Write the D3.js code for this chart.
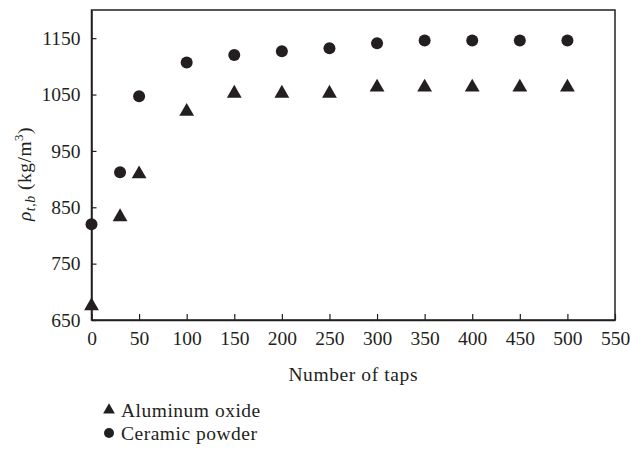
<!DOCTYPE html>
<html>
<head>
<meta charset="utf-8">
<script src="https://cdn.jsdelivr.net/npm/d3@7"></script>
<style>
  body { margin: 0; background: #fff; }
  text { font-family: "Liberation Serif", "DejaVu Serif", serif; fill: #231f20; }
</style>
</head>
<body>
<div id="chart"></div>
<script>
// x values (number of taps)
let taps = [0, 30, 50, 100, 150, 200, 250, 300, 350, 400, 450, 500];
// bulk density values
let aluminumOxide = [675, 833, 909, 1020, 1052, 1052, 1052, 1063, 1063, 1063, 1063, 1063];
let ceramicPowder = [820, 912, 1047, 1107, 1120, 1127, 1132, 1141, 1146, 1146, 1146, 1146];
let xTicks = [0, 50, 100, 150, 200, 250, 300, 350, 400, 450, 500, 550];
let yTicks = [650, 750, 850, 950, 1050, 1150];

let dim = { width: 631, height: 453 };
let box = { left: 91.5, right: 615, top: 10, bottom: 320 };
let ink = '#231f20';
let fontSize = '19.5px';

let svg = d3.select('#chart')
    .append('svg')
    .attr('width', dim.width)
    .attr('height', dim.height);

let scaleX = d3.scaleLinear().domain([0, 550]).range([box.left, box.right]);
let scaleY = d3.scaleLinear().domain([650, 1200]).range([box.bottom, box.top]);

// frame
svg.append('rect')
    .attr('x', box.left).attr('y', box.top)
    .attr('width', box.right - box.left).attr('height', box.bottom - box.top)
    .attr('fill', 'none').attr('stroke', ink).attr('stroke-width', 1.5);

// x axis, ticks pointing inward
let axisX = svg.append('g')
    .attr('transform', `translate(0, ${box.bottom})`)
    .call(d3.axisBottom(scaleX).tickValues(xTicks).tickFormat(d3.format('d'))
        .tickSize(-6).tickPadding(11).tickSizeOuter(0));

// y axis, ticks pointing inward
let axisY = svg.append('g')
    .attr('transform', `translate(${box.left}, 0)`)
    .call(d3.axisLeft(scaleY).tickValues(yTicks).tickFormat(d3.format('d'))
        .tickSize(-5).tickPadding(11).tickSizeOuter(0));

function styleAxis(axis) {
    axis.select('.domain').attr('stroke', ink).attr('stroke-width', 1.5);
    axis.selectAll('line').attr('stroke', ink).attr('stroke-width', 1.2);
    axis.selectAll('text')
        .attr('font-size', fontSize)
        .attr('font-family', '"Liberation Serif", serif')
        .attr('fill', ink);
}
styleAxis(axisX);
styleAxis(axisY);

// axis titles
svg.append('text')
    .attr('x', (box.left + box.right) / 2).attr('y', 381)
    .attr('text-anchor', 'middle').attr('font-size', fontSize)
    .attr('letter-spacing', '0.6px')
    .text('Number of taps');

let yTitle = svg.append('text')
    .attr('transform', `translate(31, 174) rotate(-90)`)
    .attr('text-anchor', 'middle').attr('font-size', fontSize)
    .attr('letter-spacing', '0.5px');
yTitle.append('tspan').attr('font-style', 'italic').text('ρ');
yTitle.append('tspan').attr('font-style', 'italic').attr('font-size', '14px').attr('dy', 4).text('t,b');
yTitle.append('tspan').attr('dy', -4).text(' (kg/m');
yTitle.append('tspan').attr('font-size', '13px').attr('dy', -8).text('3');
yTitle.append('tspan').attr('dy', 8).text(')');

let triangle = d3.symbol().type(d3.symbolTriangle).size(95);

// markers
svg.append('g').selectAll('circle')
    .data(taps.map((t, i) => ({ t, v: ceramicPowder[i] })))
    .join('circle')
    .attr('cx', d => scaleX(d.t))
    .attr('cy', d => scaleY(d.v))
    .attr('r', 6)
    .attr('fill', ink);

svg.append('g').selectAll('path')
    .data(taps.map((t, i) => ({ t, v: aluminumOxide[i] })))
    .join('path')
    .attr('d', triangle)
    .attr('transform', d => `translate(${scaleX(d.t)}, ${scaleY(d.v)})`)
    .attr('fill', ink);

// legend
let legend = svg.append('g').attr('transform', 'translate(109, 0)');
legend.append('path').attr('d', d3.symbol().type(d3.symbolTriangle).size(60))
    .attr('transform', 'translate(0, 410)').attr('fill', ink);
legend.append('text').attr('x', 12).attr('y', 417).attr('font-size', fontSize)
    .attr('letter-spacing', '0.5px').text('Aluminum oxide');
legend.append('circle').attr('cx', 0).attr('cy', 433).attr('r', 5).attr('fill', ink);
legend.append('text').attr('x', 12).attr('y', 440).attr('font-size', fontSize)
    .attr('letter-spacing', '0.5px').text('Ceramic powder');
</script>
</body>
</html>
